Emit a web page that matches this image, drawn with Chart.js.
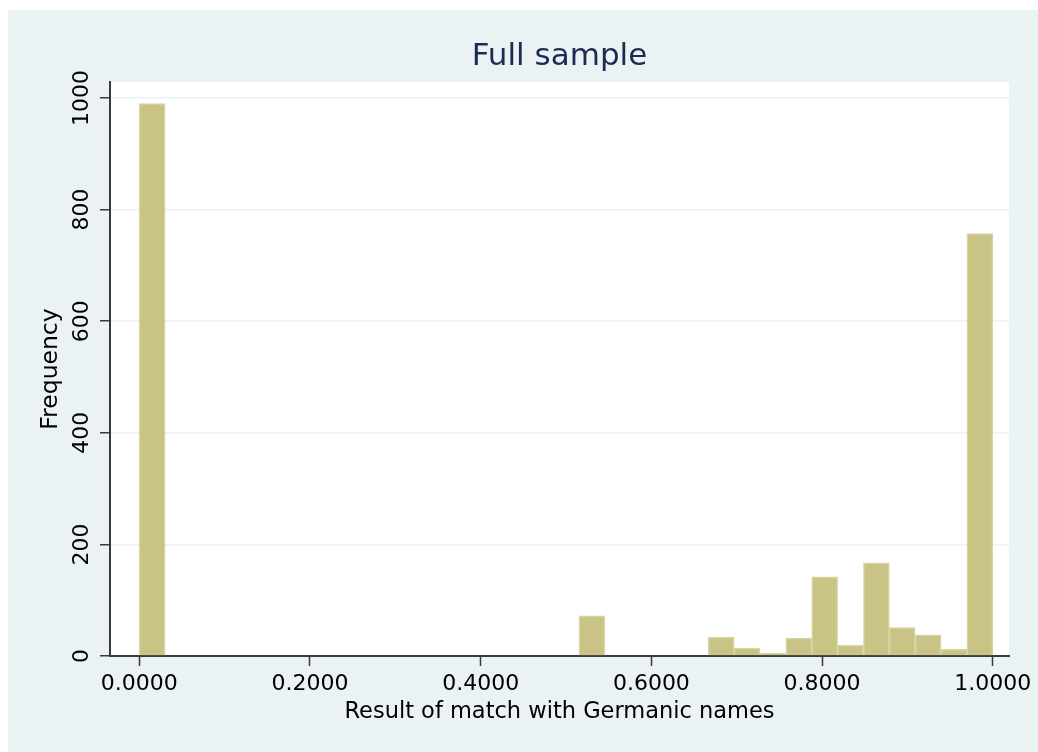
<!DOCTYPE html>
<html>
<head>
<meta charset="utf-8">
<script src="https://cdn.jsdelivr.net/npm/chart.js@4/dist/chart.umd.min.js"></script>
<style>
  html, body { margin: 0; padding: 0; background: #ffffff; }
  canvas { display: block; }
</style>
</head>
<body>
<canvas id="c" width="1038" height="752"></canvas>
<script>
// ---- data ----
const binLower = [0.0000, 0.5152, 0.6667, 0.6970, 0.7273, 0.7576, 0.7879, 0.8182, 0.8485, 0.8788, 0.9091, 0.9394, 0.9697];
const binWidth = 0.0303;
const frequency = [990, 72, 34, 14, 5, 32, 142, 19, 167, 51, 38, 12, 757];
const xTicks = [0, 0.2, 0.4, 0.6, 0.8, 1.0];
const yTicks = [0, 200, 400, 600, 800, 1000];
const titleText = 'Full sample';
const xTitle = 'Result of match with Germanic names';
const yTitle = 'Frequency';

const FONT = "'DejaVu Sans', 'Liberation Sans', sans-serif";
const BG = '#eaf2f3';
const AXIS = '#3a3a3a';

const points = binLower.map((lo, i) => ({ x: lo + binWidth / 2, y: frequency[i] }));

const backgroundPlugin = {
  id: 'bgPlugin',
  beforeDraw(chart) {
    const { ctx, chartArea: a } = chart;
    ctx.save();
    ctx.fillStyle = '#ffffff';
    ctx.fillRect(0, 0, chart.width, chart.height);
    ctx.fillStyle = BG;
    ctx.fillRect(8, 10, chart.width - 8, chart.height - 10);
    ctx.fillStyle = '#ffffff';
    ctx.fillRect(a.left, a.top, a.right - a.left, a.bottom - a.top);
    ctx.restore();
  }
};

new Chart(document.getElementById('c'), {
  type: 'bar',
  data: {
    datasets: [{
      data: points,
      backgroundColor: '#c9c385',
      borderColor: '#d8d3a2',
      borderWidth: 1.5,
      barPercentage: 1.0,
      categoryPercentage: 1.0
    }]
  },
  options: {
    responsive: false,
    animation: false,
    devicePixelRatio: 1,
    layout: { padding: { left: 8, top: 10, right: 29, bottom: 0 } },
    plugins: {
      legend: { display: false },
      tooltip: { enabled: false },
      title: {
        display: true,
        text: titleText,
        fullSize: false,
        color: '#1c2b52',
        font: { family: FONT, size: 31, weight: 'normal' },
        padding: { top: 28.4, bottom: 6.4 }
      }
    },
    scales: {
      x: {
        type: 'linear',
        offset: false,
        min: -0.0343,
        max: 1.019,
        afterBuildTicks: (s) => { s.ticks = xTicks.map(v => ({ value: v })); },
        afterFit: (s) => { s.height = 96; },
        ticks: {
          callback: (v) => Number(v).toFixed(4),
          color: '#000000',
          font: { family: FONT, size: 22 },
          padding: 5,
          maxRotation: 0,
          autoSkip: false
        },
        grid: {
          display: true,
          offset: false,
          drawOnChartArea: false,
          drawTicks: true,
          tickLength: 10,
          tickColor: AXIS,
          tickWidth: 1.5,
          color: AXIS
        },
        border: { display: true, color: AXIS, width: 2 },
        title: {
          display: true,
          text: xTitle,
          color: '#000000',
          font: { family: FONT, size: 22.5 },
          padding: { top: 0, bottom: 26.3 }
        }
      },
      y: {
        type: 'linear',
        min: 0,
        max: 1028.7,
        afterBuildTicks: (s) => { s.ticks = yTicks.map(v => ({ value: v })); },
        afterFit: (s) => { s.width = 102; },
        ticks: {
          callback: (v) => String(v),
          color: '#000000',
          font: { family: FONT, size: 22 },
          minRotation: 90,
          maxRotation: 90,
          crossAlign: 'center',
          padding: -10,
          autoSkip: false
        },
        grid: {
          display: true,
          drawOnChartArea: true,
          drawTicks: true,
          tickLength: 10,
          tickColor: AXIS,
          tickWidth: 1.5,
          color: BG,
          lineWidth: 1.5
        },
        border: { display: true, color: AXIS, width: 2 },
        title: {
          display: true,
          text: yTitle,
          color: '#000000',
          font: { family: FONT, size: 23.5 },
          padding: { top: 28.6, bottom: 0 }
        }
      }
    }
  },
  plugins: [backgroundPlugin]
});
</script>
</body>
</html>
